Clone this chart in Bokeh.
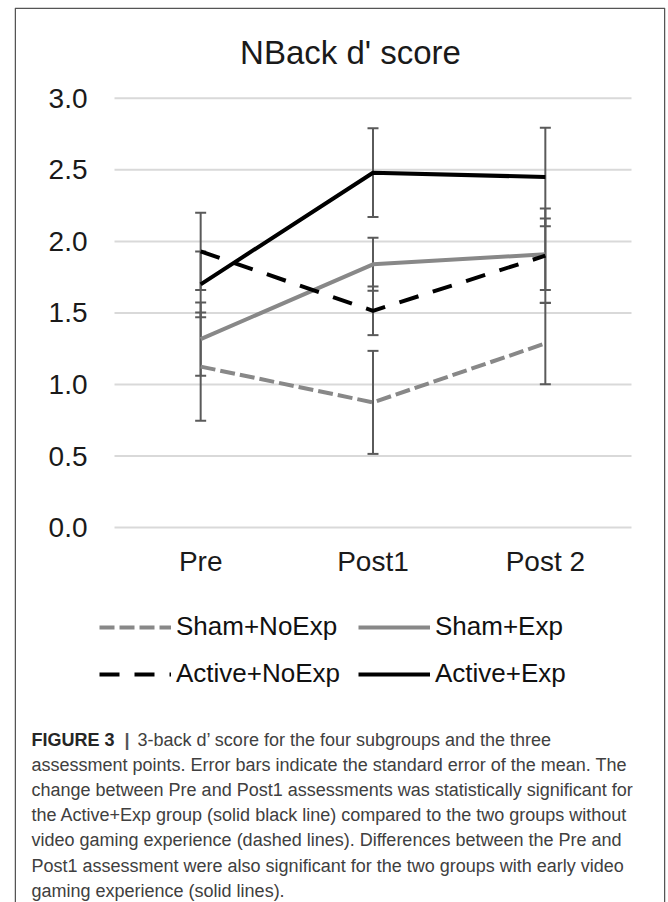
from bokeh.plotting import figure
from bokeh.models import (Range1d, FixedTicker, Label, Legend, LegendItem,
                          BoxAnnotation, PrintfTickFormatter)
from bokeh.embed import file_html
from bokeh.resources import INLINE

# ---------------- data ----------------
categories = ["Pre", "Post1", "Post 2"]

sham_noexp = [1.125, 0.875, 1.287]
sham_noexp_err = [0.378, 0.36, 0.285]

sham_exp = [1.317, 1.84, 1.91]
sham_exp_err = [0.256, 0.185, 0.25]

active_noexp = [1.93, 1.515, 1.90]
active_noexp_err = [0.27, 0.17, 0.33]

active_exp = [1.70, 2.48, 2.45]
active_exp_err = [0.23, 0.31, 0.345]

y_ticks = [0.0, 0.5, 1.0, 1.5, 2.0, 2.5, 3.0]

title_text = "NBack d' score"
caption_lines = [
    "3-back d\u2019 score for the four subgroups and the three",
    "assessment points. Error bars indicate the standard error of the mean. The",
    "change between Pre and Post1 assessments was statistically significant for",
    "the Active+Exp group (solid black line) compared to the two groups without",
    "video gaming experience (dashed lines). Differences between the Pre and",
    "Post1 assessment were also significant for the two groups with early video",
    "gaming experience (solid lines).",
]

FONT = "Liberation Sans"
GREY = "#888888"
BLACK = "#000000"
ERR = "#5a5a5a"

# category positions on a numeric axis (centres of equal bands)
xpos = [i + 0.5 for i in range(len(categories))]

W, H = 668, 902
FL, FR, FT, FB = 14, 665, 7, 902          # frame edges (page px)
PX_X = 517 / len(categories)               # px per category band
X0 = 114                                   # px of band start
PX_Y = 143.1                               # px per unit of d'
Y0 = 527.1                                 # px of d' = 0

x_start = (FL - X0) / PX_X
x_end = (FR - X0) / PX_X
y_start = -(FB - Y0) / PX_Y
y_end = (Y0 - FT) / PX_Y

p = figure(width=W, height=H,
           x_range=Range1d(x_start, x_end), y_range=Range1d(y_start, y_end),
           output_backend="svg", toolbar_location=None,
           min_border_left=FL, min_border_right=W - FR,
           min_border_top=FT, min_border_bottom=H - FB)

p.outline_line_color = None
p.background_fill_color = "white"
p.border_fill_color = "white"
p.xgrid.visible = False
p.ygrid.visible = False

p.yaxis.ticker = FixedTicker(ticks=y_ticks)
p.yaxis.formatter = PrintfTickFormatter(format="%.1f")
p.xaxis.ticker = FixedTicker(ticks=xpos)
p.xaxis.major_label_overrides = {x: c for x, c in zip(xpos, categories)}

for ax in (p.xaxis[0], p.yaxis[0]):
    ax.axis_line_color = None
    ax.major_tick_line_color = None
    ax.minor_tick_line_color = None
    ax.major_tick_out = 0
    ax.major_tick_in = 0
    ax.minor_tick_out = 0
    ax.minor_tick_in = 0
    ax.major_label_text_font = FONT
    ax.major_label_text_font_size = "28px"
    ax.major_label_text_color = "#1a1a1a"
p.yaxis.major_label_standoff = -(87 - FL)
p.xaxis.major_label_standoff = -(FB - 545)

# horizontal gridlines spanning the category bands
n = len(y_ticks)
p.segment(x0=[0] * n, x1=[len(categories)] * n, y0=y_ticks, y1=y_ticks,
          line_color="#d9d9d9", line_width=2)

series = [
    ("Sham+NoExp", sham_noexp, sham_noexp_err, GREY, "15 5"),
    ("Sham+Exp", sham_exp, sham_exp_err, GREY, "solid"),
    ("Active+NoExp", active_noexp, active_noexp_err, BLACK, "20 15"),
    ("Active+Exp", active_exp, active_exp_err, BLACK, "solid"),
]

# error bars first
for name, vals, errs, col, dash in series:
    lo = [v - e for v, e in zip(vals, errs)]
    hi = [v + e for v, e in zip(vals, errs)]
    p.segment(x0=xpos, y0=lo, x1=xpos, y1=hi, line_color=ERR, line_width=2)
    p.scatter(x=xpos + xpos, y=lo + hi, marker="dash", size=11,
              line_color=ERR, line_width=2)

renderers = {}
for name, vals, errs, col, dash in series:
    r = p.line(x=xpos, y=vals, line_color=col, line_width=4, line_dash=dash)
    renderers[name] = r

# legend grid fills column by column
legend_order = ["Sham+NoExp", "Active+NoExp", "Sham+Exp", "Active+Exp"]
legend = Legend(items=[LegendItem(label=nm, renderers=[renderers[nm]]) for nm in legend_order],
                location=(99 - FL, FB - 689), ncols=2,
                glyph_width=72, glyph_height=30, label_height=30, label_width=166,
                label_standoff=5, spacing=16, padding=0, margin=0,
                border_line_color=None, background_fill_alpha=0,
                label_text_font=FONT, label_text_font_size="26px",
                label_text_color="#111111")
p.add_layout(legend, "center")

# title
p.add_layout(Label(x=350 - FL, y=FB - 51.7, x_units="screen", y_units="screen", text=title_text,
                   text_align="center", text_baseline="alphabetic",
                   text_font=FONT, text_font_size="33px", text_color="#1a1a1a"))

# caption
base0 = 739.5
for i, line in enumerate(caption_lines):
    yb = FB - (base0 + i * 25.1)
    if i == 0:
        p.add_layout(Label(x=31 - FL, y=yb, x_units="screen", y_units="screen", text="FIGURE 3",
                           text_baseline="alphabetic", text_font=FONT, text_font_size="18px",
                           text_font_style="bold", text_color="#262626"))
        p.add_layout(Label(x=124 - FL, y=yb, x_units="screen", y_units="screen", text="|",
                           text_baseline="alphabetic", text_font=FONT, text_font_size="18px",
                           text_font_style="bold", text_color="#555555"))
        p.add_layout(Label(x=137 - FL, y=yb, x_units="screen", y_units="screen", text=line,
                           text_baseline="alphabetic", text_font=FONT, text_font_size="18px",
                           text_color="#404040"))
    else:
        p.add_layout(Label(x=31 - FL, y=yb, x_units="screen", y_units="screen", text=line,
                           text_baseline="alphabetic", text_font=FONT, text_font_size="18px",
                           text_color="#404040"))

# surrounding box (open at the bottom)
p.add_layout(BoxAnnotation(left=0.75, right=(FR - FL) - 0.75, top=(FB - FT) - 0.75, bottom=-50,
                           left_units="screen", right_units="screen",
                           top_units="screen", bottom_units="screen",
                           fill_alpha=0, line_color="#555555", line_alpha=1.0,
                           line_width=1.5))

open("out.html", "w").write(file_html(p, INLINE))
